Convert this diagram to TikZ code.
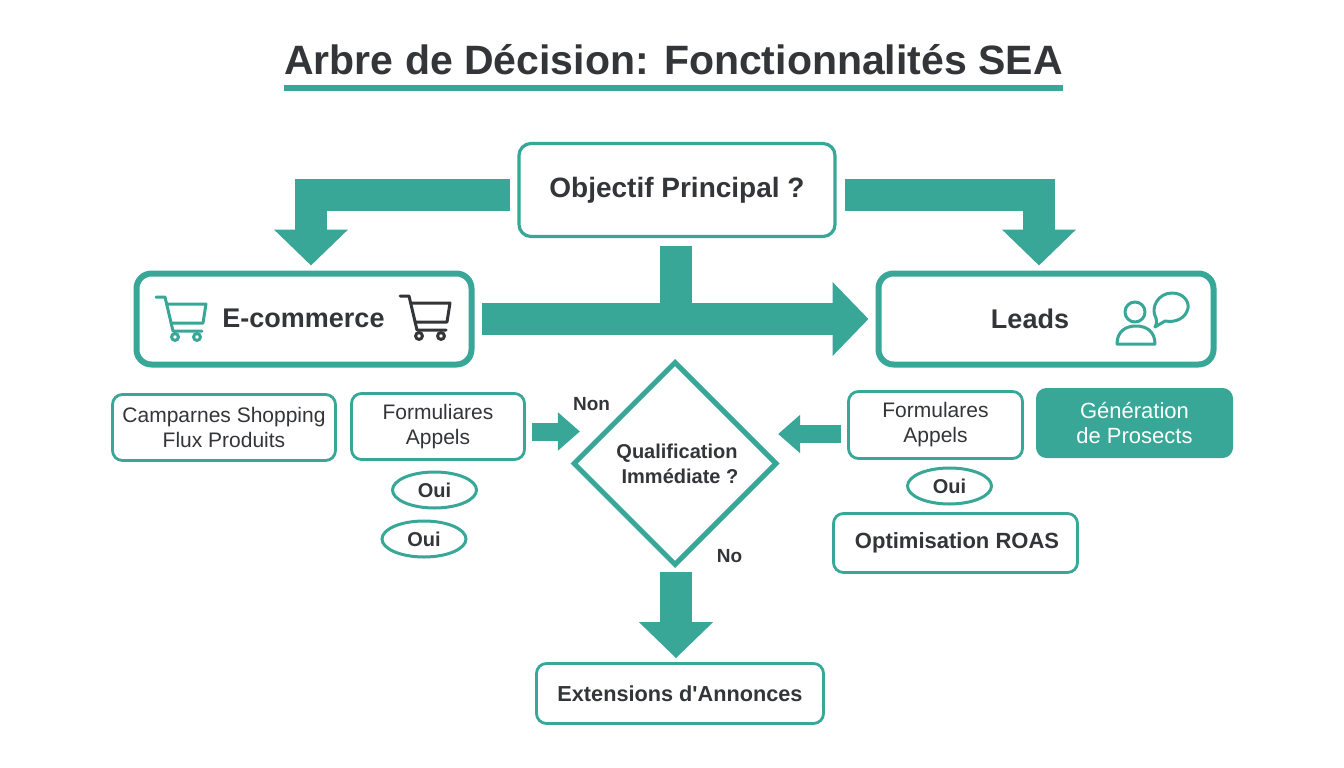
\documentclass[tikz,border=0pt]{standalone}
\usepackage{fontspec}
\setmainfont{Liberation Sans}
\usetikzlibrary{shapes.geometric,arrows.meta}
\definecolor{teal1}{HTML}{38A797}
\definecolor{ink}{HTML}{333538}
\newcommand{\fs}[1]{\fontsize{#1}{25}\selectfont}
\tikzset{
  x=1pt,y=-1pt,
  bigbox/.style={draw=teal1,line width=6pt,rounded corners=15pt,fill=white,text=ink,font=\fs{27}\bfseries,align=center,minimum width=335pt,minimum height=91pt},
  subbox/.style={draw=teal1,line width=2.8pt,rounded corners=10pt,fill=white,text=ink,font=\fs{21},align=center,inner sep=0pt},
  boldbox/.style={subbox,font=\fs{22}\bfseries},
  ouinode/.style={draw=teal1,line width=3pt,ellipse,fill=white,text=ink,font=\fs{20}\bfseries,minimum width=84pt,minimum height=36pt,inner sep=0pt},
  lab/.style={text=ink,font=\fs{19}\bfseries,inner sep=0pt},
  bigarrow/.style={draw=teal1,line width=32pt,line join=miter,-{Triangle[width=72pt,length=36pt,fill=teal1]}},
  smallarrow/.style={draw=teal1,line width=18pt,-{Triangle[width=37pt,length=22pt,fill=teal1]}},
  icon/.style={line width=3pt,line cap=round,line join=round,fill=none},
  pics/cart/.style={code={
    \draw[icon,draw=#1] (0,0) -- (9,0) -- (17,34) -- (46,34);
    \draw[icon,draw=#1] (11,7) -- (50,7) -- (47,26) -- (15,26);
    \draw[icon,draw=#1,fill=white] (19,40) circle (3.4);
    \draw[icon,draw=#1,fill=white] (41,40) circle (3.4);
  }}
}
\begin{document}
\begin{tikzpicture}
\useasboundingbox (0,0) rectangle (1344,768);
\fill[white] (0,0) rectangle (1344,768);
% title
\node[text=ink,font=\fs{41}\bfseries,inner sep=0pt] (title) at (673.5,60) {Arbre de Décision: Fonctionnalités SEA};
\coordinate (ul) at (284,87.5); \coordinate (ur) at (1063,87.5);
\draw[teal1,line width=6pt] (ul) -- (ur);
% main nodes
\node[subbox,line width=3.2pt,font=\fs{28}\bfseries,minimum width=316pt,minimum height=93pt,rounded corners=12pt] (obj) at (677,190) {Objectif Principal ?};
\node[bigbox] (ecom) at (304,319) {};
\node[lab,font=\fs{27}\bfseries] (ecomt) at (303.5,318.5) {E-commerce};
\node[bigbox] (leads) at (1046,319) {};
\node[lab,font=\fs{27}\bfseries] (leadst) at (1030,318.5) {Leads};
\node[subbox,minimum width=223pt,minimum height=66pt] (shop) at (224,427.5) {Camparnes Shopping\\Flux Produits};
\node[subbox,minimum width=173pt,minimum height=66pt] (forml) at (438,426.5) {Formuliares\\Appels};
\node[subbox,minimum width=174pt,minimum height=67pt] (formr) at (935.5,425) {};
\node[text=ink,font=\fs{21},align=center,inner sep=0pt] (formrt) at (935.5,425) {Formulares\\Appels};
\node[draw=teal1,fill=teal1,rounded corners=10pt,text=white,font=\fs{22},align=center,minimum width=196pt,minimum height=69pt,inner sep=0pt,line width=1pt] (gen) at (1134.5,423) {Génération\\de Prosects};
\node[ouinode] (oui1) at (434.5,490) {Oui};
\node[ouinode] (oui2) at (424,539) {Oui};
\node[ouinode] (oui3) at (949.5,486) {Oui};
\node[boldbox,minimum width=244pt,minimum height=59pt] (roas) at (955.5,543) {};
\node[text=ink,font=\fs{22}\bfseries,inner sep=0pt] (roast) at (957,542.5) {Optimisation ROAS};
\node[diamond,draw=teal1,line width=5pt,fill=white,minimum width=204pt,minimum height=204pt,inner sep=0pt] (dia) at (675,463.5) {};
\node[text=ink,font=\fs{20}\bfseries,align=center,inner sep=0pt] (diat) at (677,464) {Qualification\\\hspace*{6pt}Immédiate ?};
\node[boldbox,font=\fs{21.7}\bfseries,minimum width=287pt,minimum height=60pt] (ext) at (680,693.5) {Extensions d\textquotesingle Annonces};
\node[lab] (non) at (591.5,404) {Non};
\node[lab] (no) at (729.5,556.5) {No};
% block connectors
\draw[bigarrow] ([shift={(-7,5)}]obj.west) -| ([shift={(7,-5)}]ecom.north);
\draw[bigarrow] ([shift={(8,5)}]obj.east) -| ([shift={(-7,-5)}]leads.north);
\draw[bigarrow] ([shift={(7,0)}]ecom.east) -- ([shift={(-7,0)}]leads.west);
\draw[draw=teal1,line width=32pt] ([shift={(-1,8)}]obj.south) -- ([shift={(-1,0)}]obj.south |- ecom.east);
\draw[smallarrow] ([shift={(6,5)}]forml.east) -- ++(48,0) coordinate (la);
\draw[smallarrow] ([shift={(-6,9)}]formr.west) -- ++(-63,0) coordinate (ra);
\draw[bigarrow] ([shift={(1,4)}]dia.south) -- ([shift={(1,-4)}]ext.north -| dia.south);
% icons
\path (156,297) pic {cart=teal1};
\path (400,296) pic {cart=ink};
\draw[icon,draw=teal1] (1135,312) circle (10);
\draw[icon,draw=teal1] (1117,344) .. controls (1117,331) and (1126,326) .. (1136,326) .. controls (1146,326) and (1155,331) .. (1155,344) -- cycle;
\draw[icon,draw=teal1] (1155,327) .. controls (1157,323) and (1157,321) .. (1156,318) .. controls (1150,308) and (1158,293) .. (1172,293) .. controls (1184,293) and (1189,302) .. (1188,308) .. controls (1186,318) and (1176,323) .. (1165,321) -- cycle;
\end{tikzpicture}
\end{document}
